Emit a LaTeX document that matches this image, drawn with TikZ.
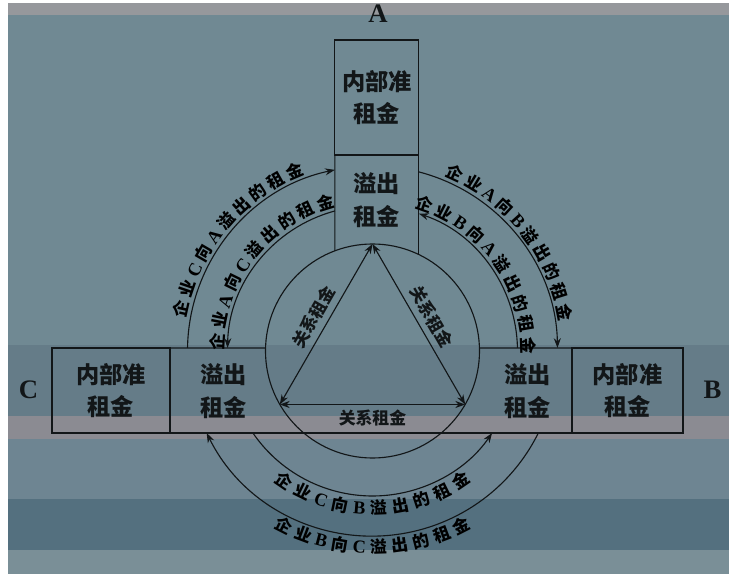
\documentclass[tikz,border=0pt]{standalone}
\usepackage{fontspec}
\setmainfont{Noto Sans CJK SC}
\newfontfamily\latinserif{Liberation Serif}
\usepackage{tikz}
\usetikzlibrary{arrows.meta, decorations.text}
\definecolor{BgMain}{RGB}{112,137,147}
\definecolor{BgMid}{RGB}{101,124,136}
\definecolor{BgGray}{RGB}{139,139,146}
\definecolor{BgLow}{RGB}{110,133,146}
\definecolor{BgDeep}{RGB}{84,112,127}
\definecolor{BgFoot}{RGB}{122,143,151}
\definecolor{BgTop}{RGB}{150,152,156}
\definecolor{InkDark}{RGB}{18,22,24}
\newcommand{\boxfont}{\fontsize{16.5}{23}\selectfont\bfseries}
\newcommand{\arcfont}{\fontsize{12}{14}\selectfont\bfseries\fontdimen2\font=2.4pt\relax}
\newcommand{\arclatin}{\latinserif\fontsize{13}{14}\selectfont\bfseries}
\newcommand{\relfont}{\fontsize{12}{14}\selectfont\bfseries}
\newcommand{\sidefont}{\latinserif\fontsize{19}{19}\selectfont\bfseries}

\begin{document}
\begin{tikzpicture}[line width=0.8pt, InkDark,
    box/.style={draw, rectangle, align=center, font=\boxfont, inner sep=0pt, outer sep=0pt},
    spill/.style={align=center, font=\boxfont},
    side/.style={font=\sidefont},
    rent/.style={-{Stealth[length=7pt,width=5pt]}},
    backrent/.style={{Stealth[length=7pt,width=5pt]}-},
    tworent/.style={{Stealth[length=7pt,width=5pt]}-{Stealth[length=7pt,width=5pt]}},
    arclabel/.style 2 args={postaction={decorate, decoration={text along path,
        text align=center, raise=#2, text={|\arcfont|#1}}}}]

        % Background bands
        \fill[white] (-9.3125,-5.575) rectangle (8.9625,8.775);
        \fill[BgTop]  (-9.1125,8.4)   rectangle (8.9125,8.7);
        \fill[BgMain] (-9.1125,0.15)  rectangle (8.9125,8.4);
        \fill[BgMid]  (-9.1125,-1.625) rectangle (8.9125,0.15);
        \fill[BgGray] (-9.1125,-2.2)  rectangle (8.9125,-1.625);
        \fill[BgLow]  (-9.1125,-3.7)  rectangle (8.9125,-2.2);
        \fill[BgDeep] (-9.1125,-4.975) rectangle (8.9125,-3.7);
        \fill[BgFoot] (-9.1125,-5.575) rectangle (8.9125,-4.975);
        \useasboundingbox (-9.3125,-5.575) rectangle (8.9625,8.775);

        % Firm A
        \node[side] (labA) at (0.14,8.43) {A};
        \node[box, minimum width=2.1cm, minimum height=2.875cm] (Aint) at (0.11,6.3375)
              {内部准\\租金};
        \node[spill] (Aspill) at (0.11,3.775) {溢出\\租金};
        \coordinate (AcutL) at (-0.94,2.504);
        \coordinate (AcutR) at (1.16,2.410);
        \draw (Aint.south west) -- (AcutL);
        \draw (Aint.south east) -- (AcutR);

        % Firm C
        \node[side] (labC) at (-8.6,-0.975) {C};
        \node[box, minimum width=2.95cm, minimum height=2.125cm] (Cint) at (-6.5375,-0.9875)
              {内部准\\租金};
        \node[spill] (Cspill) at (-3.725,-1.0) {溢出\\租金};
        \coordinate (CcutT) at (-2.674,0.075);
        \draw (Cint.north east) -- (CcutT);

        % Firm B
        \node[side] (labB) at (8.5,-0.975) {B};
        \node[box, minimum width=2.775cm, minimum height=2.125cm] (Bint) at (6.375,-0.9875)
              {内部准\\租金};
        \node[spill] (Bspill) at (3.875,-1.0) {溢出\\租金};
        \coordinate (BcutT) at (2.674,0.075);
        \draw (Bint.north west) -- (BcutT);
        \draw (Cint.south east) -- (Bint.south west);

        % Relation ring and triangle
        \node[draw, circle, minimum size=5.35cm, inner sep=0pt, outer sep=0pt] (ring) at (0,0) {};
        \draw[tworent] (ring.210) -- (ring.90)
              node[midway, sloped, above=1pt, font=\relfont] (relCA) {关系租金};
        \draw[tworent] (ring.90) -- (ring.330)
              node[midway, sloped, above=1pt, font=\relfont] (relAB) {关系租金};
        \draw[tworent] (ring.210) -- (ring.330)
              node[midway, below=0pt, font=\relfont] (relCB) {关系租金};

        % Spillovers between A and C
        \coordinate (oCA) at (179.07:4.625);
        \coordinate (iAC) at (178.81:3.625);
        \draw[rent, arclabel={企 业 |\arclatin|C|\arcfont| 向 |\arclatin|A|\arcfont| 溢 出 的 租 金}{3pt}]
          (oCA) arc[start angle=179.07, end angle=101.73, radius=4.625];
        \draw[backrent, arclabel={企 业 |\arclatin|A|\arcfont| 向 |\arclatin|C|\arcfont| 溢 出 的 租 金}{3pt}]
          (iAC) arc[start angle=178.81, end angle=105.03, radius=3.625];

        % Spillovers between A and B
        \coordinate (oAB) at (75.47:4.625);
        \coordinate (iBA) at (71.34:3.625);
        \draw[rent, arclabel={企 业 |\arclatin|A|\arcfont| 向 |\arclatin|B|\arcfont| 溢 出 的 租 金}{3pt}]
          (oAB) arc[start angle=75.47, end angle=0.93, radius=4.625];
        \draw[backrent, arclabel={企 业 |\arclatin|B|\arcfont| 向 |\arclatin|A|\arcfont| 溢 出 的 租 金}{3pt}]
          (iBA) arc[start angle=71.34, end angle=1.19, radius=3.625];

        % Spillovers between C and B
        \coordinate (iCB) at (214.44:3.625);
        \coordinate (oBC) at (206.31:4.625);
        \draw[rent, arclabel={企 业 |\arclatin|C|\arcfont| 向 |\arclatin|B|\arcfont| 溢 出 的 租 金}{-13pt}]
          (iCB) arc[start angle=214.44, end angle=325.56, radius=3.625];
        \draw[backrent, arclabel={企 业 |\arclatin|B|\arcfont| 向 |\arclatin|C|\arcfont| 溢 出 的 租 金}{-12.5pt}]
          (oBC) arc[start angle=206.31, end angle=333.69, radius=4.625];
      \end{tikzpicture}
\end{document}
